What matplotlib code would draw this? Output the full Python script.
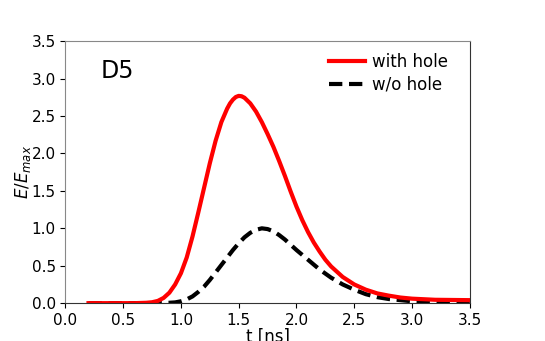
import matplotlib
matplotlib.use('Agg')
import matplotlib.pyplot as plt

# pulse shapes
t_hole = [0.2, 0.4, 0.6, 0.7, 0.75, 0.8, 0.85, 0.9, 0.95, 1.0, 1.05, 1.1, 1.15,
          1.2, 1.25, 1.3, 1.35, 1.4, 1.425, 1.45, 1.475, 1.5, 1.525, 1.55, 1.6,
          1.65, 1.7, 1.75, 1.8, 1.85, 1.9, 1.95, 2.0, 2.05, 2.1, 2.15, 2.2,
          2.25, 2.3, 2.4, 2.5, 2.6, 2.7, 2.8, 2.9, 3.0, 3.2, 3.5]
e_hole = [0.0, 0.0, 0.0, 0.005, 0.012, 0.03, 0.07, 0.14, 0.25, 0.40, 0.61, 0.89, 1.21,
          1.54, 1.87, 2.17, 2.42, 2.60, 2.67, 2.72, 2.755, 2.77, 2.765, 2.745, 2.67,
          2.56, 2.42, 2.26, 2.09, 1.90, 1.70, 1.49, 1.29, 1.11, 0.95, 0.81, 0.69,
          0.58, 0.49, 0.35, 0.25, 0.18, 0.13, 0.10, 0.075, 0.06, 0.045, 0.04]

t_nohole = [0.2, 0.6, 0.8, 0.9, 0.95, 1.0, 1.05, 1.1, 1.15, 1.2, 1.25, 1.3, 1.35,
            1.4, 1.45, 1.5, 1.55, 1.6, 1.65, 1.7, 1.75, 1.8, 1.85, 1.9, 1.95,
            2.0, 2.1, 2.2, 2.3, 2.4, 2.5, 2.6, 2.7, 2.8, 3.0, 3.2, 3.5]
e_nohole = [0.0, 0.0, 0.0, 0.005, 0.01, 0.025, 0.05, 0.09, 0.15, 0.22, 0.31, 0.41, 0.51,
            0.61, 0.71, 0.80, 0.88, 0.94, 0.98, 1.0, 0.99, 0.96, 0.91, 0.85, 0.78,
            0.71, 0.58, 0.45, 0.34, 0.25, 0.18, 0.12, 0.08, 0.055, 0.025, 0.012, 0.005]

fig = plt.figure(figsize=(5.45, 3.41), dpi=100)
ax = fig.add_axes([0.12, 0.111, 0.742, 0.768])

ax.plot(t_nohole, e_nohole, color='black', lw=3, ls=(0, (3.2, 1.6)), label='w/o hole')
ax.plot(t_hole, e_hole, color='red', lw=3, label='with hole')

ax.set_xlim(0, 3.5)
ax.set_ylim(0, 3.5)
ax.set_xticks([0.0, 0.5, 1.0, 1.5, 2.0, 2.5, 3.0, 3.5])
ax.set_yticks([0.0, 0.5, 1.0, 1.5, 2.0, 2.5, 3.0, 3.5])
ax.tick_params(labelsize=11)
ax.set_xlabel('t [ns]', fontsize=12, labelpad=0)
ax.set_ylabel('$E/E_{max}$', fontsize=12)
ax.yaxis.set_label_coords(-0.08, 0.5)
ax.text(0.087, 0.885, 'D5', transform=ax.transAxes, fontsize=17, va='center')

for s in ('left', 'top'):
    ax.spines[s].set_color('#888888')
for s in ('right', 'bottom'):
    ax.spines[s].set_color('#333333')

handles, labels = ax.get_legend_handles_labels()
ax.legend(handles[::-1], labels[::-1], loc='upper right', frameon=False,
          bbox_to_anchor=(0.975, 1.0),
          fontsize=12, handlelength=2.2, borderaxespad=0.3, handletextpad=0.4,
          labelspacing=0.3)

fig.savefig('out.png', dpi=100)
